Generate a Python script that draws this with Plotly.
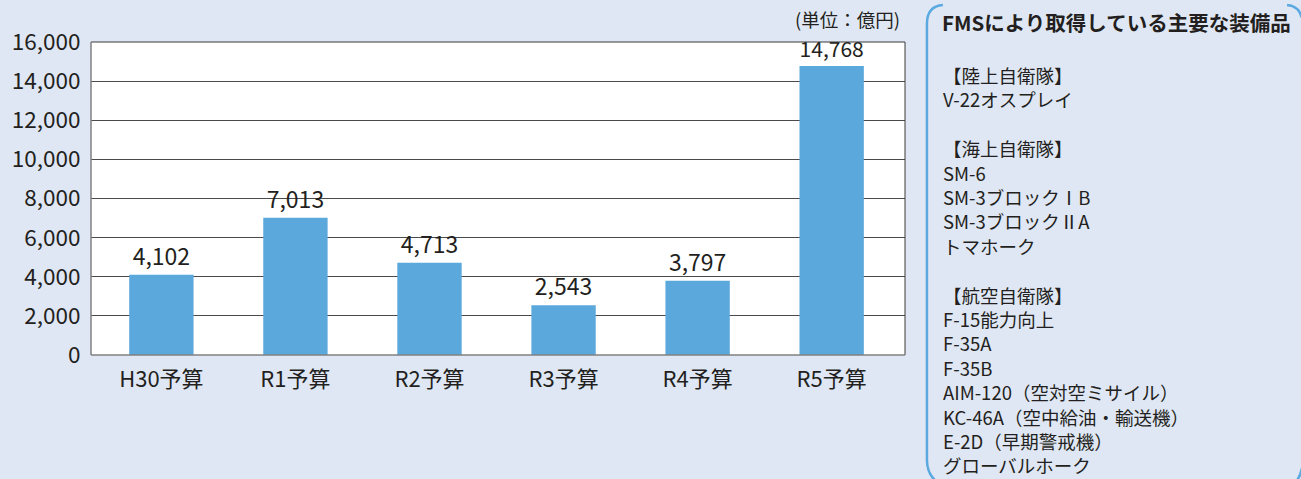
import plotly.graph_objects as go

# 予算年度ごとのFMS調達額（億円）
categories = ["H30予算", "R1予算", "R2予算", "R3予算", "R4予算", "R5予算"]
values = [4102, 7013, 4713, 2543, 3797, 14768]
y_ticks = [0, 2000, 4000, 6000, 8000, 10000, 12000, 14000, 16000]

panel_title = "FMSにより取得している主要な装備品"
panel_lines = [
    "【陸上自衛隊】",
    "V-22オスプレイ",
    "",
    "【海上自衛隊】",
    "SM-6",
    "SM-3ブロックⅠB",
    "SM-3ブロックⅡA",
    "トマホーク",
    "",
    "【航空自衛隊】",
    "F-15能力向上",
    "F-35A",
    "F-35B",
    "AIM-120（空対空ミサイル）",
    "KC-46A（空中給油・輸送機）",
    "E-2D（早期警戒機）",
    "グローバルホーク",
]
unit_label = "(単位：億円)"

W, H = 1301, 479
ML, MR, MT, MB = 89, 396, 42, 124
PW, PH = W - ML - MR, H - MT - MB

FONT = "Noto Sans CJK JP"
TEXT = "#231f20"
BAR = "#5ba8dc"
BG = "#e0e7f4"
ACCENT = "#5aa9e0"


def px(x, y):
    """Convert page pixel coordinates to paper coordinates."""
    return (x - ML) / PW, (MT + PH - y) / PH


fig = go.Figure()
fig.add_trace(go.Bar(
    x=categories,
    y=values,
    width=0.48,
    marker=dict(color=BAR, line=dict(width=0)),
    text=[f"{v:,}" for v in values],
    textposition="outside",
    textfont=dict(family=FONT, size=23, color=TEXT),
    cliponaxis=False,
    hoverinfo="skip",
))

annotations = []
# unit label above the plot frame
ux, uy = px(902, 19)
annotations.append(dict(xref="paper", yref="paper", x=ux, y=uy, text=unit_label,
                        showarrow=False, xanchor="right", yanchor="middle",
                        font=dict(family=FONT, size=18.5, color=TEXT)))
# side panel title
tx, ty = px(940, 22)
annotations.append(dict(xref="paper", yref="paper", x=tx, y=ty, text=f"<b>{panel_title}</b>",
                        showarrow=False, xanchor="left", yanchor="middle",
                        font=dict(family=FONT, size=20.5, color=TEXT)))
# side panel list
for i, line in enumerate(panel_lines):
    if not line:
        continue
    lx, ly = px(941, 75 + i * 24.4)
    annotations.append(dict(xref="paper", yref="paper", x=lx, y=ly, text=line,
                            showarrow=False, xanchor="left", yanchor="middle",
                            font=dict(family=FONT, size=18.5, color=TEXT)))


def seg(x0, y0, x1, y1, color, width=1):
    a0 = px(x0, y0)
    a1 = px(x1, y1)
    return dict(type="line", xref="paper", yref="paper", x0=a0[0], y0=a0[1], x1=a1[0], y1=a1[1],
                line=dict(color=color, width=width), layer="above")


def path(points, color, width):
    # quadratic path in paper coordinates
    cmds = []
    for cmd, coords in points:
        parts = []
        for (x, y) in coords:
            a = px(x, y)
            parts.append(f"{a[0]:.5f},{a[1]:.5f}")
        cmds.append(cmd + " " + " ".join(parts))
    return dict(type="path", xref="paper", yref="paper", path=" ".join(cmds),
                line=dict(color=color, width=width), layer="above")


shapes = [
    # plot frame
    seg(ML, MT, ML + PW, MT, "#3a3a3a"),
    seg(ML + PW, MT, ML + PW, MT + PH, "#3a3a3a"),
    seg(ML, MT, ML, MT + PH, "#808080", 1.5),
    seg(ML, MT + PH, ML + PW, MT + PH, "#808080", 1.5),
    # panel bracket
    path([("M", [(943, 5)]), ("Q", [(927, 6), (927, 24)]), ("L", [(927, 460)]),
          ("Q", [(927, 476), (940, 484)])], ACCENT, 2.5),
    path([("M", [(1288, 5)]), ("Q", [(1300, 6), (1303, 18)])], ACCENT, 2.5),
    path([("M", [(1295, 484)]), ("Q", [(1301, 478), (1303, 468)])], ACCENT, 2.5),
]

fig.update_layout(
    width=W, height=H,
    margin=dict(l=ML, r=MR, t=MT, b=MB, pad=0),
    paper_bgcolor=BG,
    plot_bgcolor="white",
    showlegend=False,
    bargap=0.52,
    font=dict(family=FONT, size=21, color=TEXT),
    annotations=annotations,
    shapes=shapes,
    xaxis=dict(
        range=[-0.525, 5.547],
        showgrid=False, showline=False, zeroline=False,
        ticks="outside", ticklen=5, tickcolor="rgba(0,0,0,0)",
        tickfont=dict(family=FONT, size=22, color=TEXT),
        fixedrange=True,
    ),
    yaxis=dict(
        range=[0, 16000],
        tickvals=y_ticks,
        ticktext=[f"{v:,}" for v in y_ticks],
        showgrid=True, gridcolor="#4a4a4a", gridwidth=1,
        zeroline=False, showline=False,
        ticks="outside", ticklen=5, tickcolor="rgba(0,0,0,0)",
        tickfont=dict(family=FONT, size=22.5, color=TEXT),
        fixedrange=True,
    ),
)

fig.write_html("out.html")
